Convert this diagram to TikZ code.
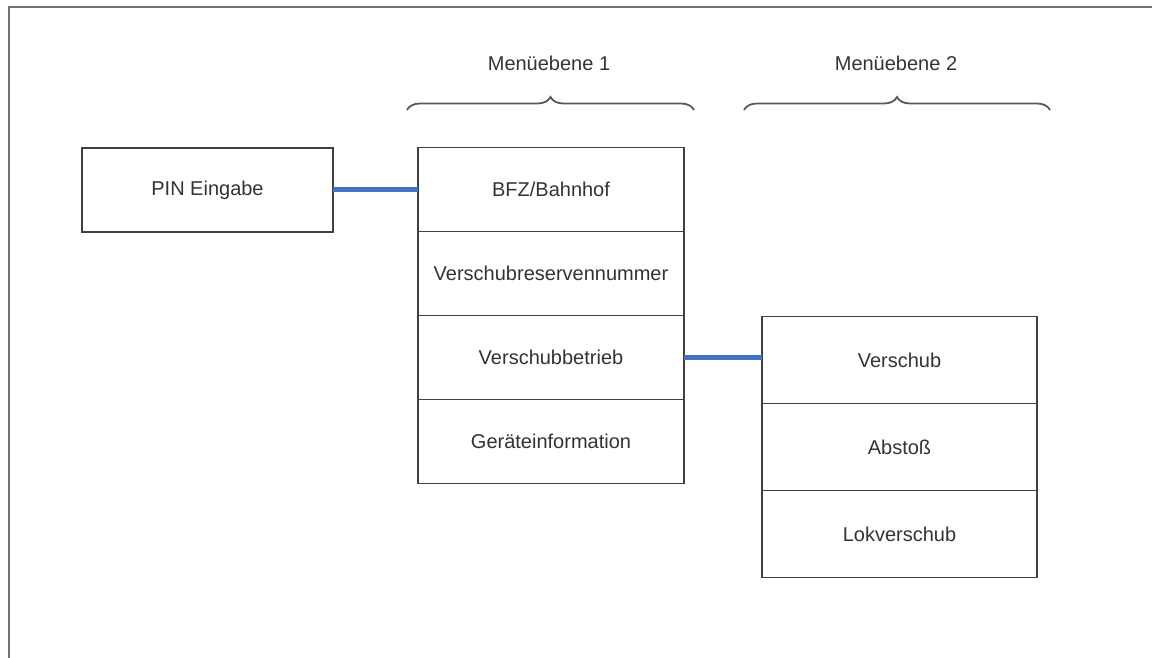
\documentclass[tikz,border=0pt]{standalone}
\usepackage{fontspec}
\setmainfont{Liberation Sans}
\usetikzlibrary{positioning,decorations.pathreplacing}

\begin{document}
\begin{tikzpicture}[x=1pt, y=-1pt,
    font=\fontsize{20}{23}\selectfont,
    entry/.style={draw=black!75, line width=1.2pt, fill=white, text=black!80,
      inner sep=0pt, outer sep=0pt, minimum height=84pt},
    menuone/.style={entry, minimum width=266pt},
    menutwo/.style={entry, minimum width=275pt, minimum height=87pt},
    link/.style={line width=5pt, color={rgb,255:red,68;green,114;blue,196}},
    levelbrace/.style={decorate, decoration={brace, amplitude=13pt},
      line width=1.8pt, draw=black!65}]
      \useasboundingbox (0,0) rectangle (1152,658);
      % frame
      \draw[line width=2pt, black!55] (1152,7) -- (9,7) -- (9,658);
      % boxes
      \node[entry, minimum width=251pt] (pin) at (207.5,190) {PIN Eingabe};
      \node[menuone] (bfz) at (551,189.5) {BFZ/Bahnhof};
      \node[menuone, below=0pt of bfz] (vres) {Verschubreservennummer};
      \node[menuone, below=0pt of vres] (vbetr) {Verschubbetrieb};
      \node[menuone, below=0pt of vbetr] (geraet) {Geräteinformation};
      \node[menutwo] (versch) at (899.5,360) {Verschub};
      \node[menutwo, below=0pt of versch] (abstoss) {Abstoß};
      \node[menutwo, below=0pt of abstoss] (lokv) {Lokverschub};
      % connectors
      \draw[link] (pin.east) -- (bfz.west |- pin.east);
      \draw[link] (vbetr.east) -- (vbetr.east -| versch.west);
      % menu levels
      \coordinate (b1l) at (407,110);
      \coordinate (b1r) at (694,110);
      \coordinate (b2l) at (744,110);
      \coordinate (b2r) at (1050,110);
      \draw[levelbrace] (b1l) -- (b1r);
      \draw[levelbrace] (b2l) -- (b2r);
      \node[text=black!80] (lvl1) at (549,63) {Menüebene 1};
      \node[text=black!80] (lvl2) at (896,63) {Menüebene 2};
\end{tikzpicture}
\end{document}
